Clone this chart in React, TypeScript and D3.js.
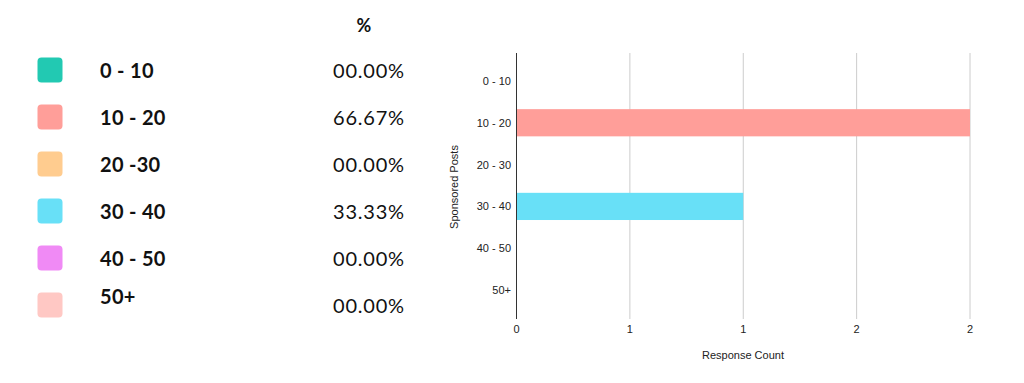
import React from "react";
import * as d3 from "d3";

const categories = ["0 - 10", "10 - 20", "20 -30", "30 - 40", "40 - 50", "50+"];
const axisCategories = ["0 - 10", "10 - 20", "20 - 30", "30 - 40", "40 - 50", "50+"];
const counts = [0, 2, 0, 1, 0, 0];
const percents = ["00.00%", "66.67%", "00.00%", "33.33%", "00.00%", "00.00%"];
const colors = ["#22C9B2", "#FF9E99", "#FFCC8F", "#68E0F7", "#F08AF5", "#FFC8C4"];
const xTicks = [0, 0.5, 1, 1.5, 2];

export default function App() {
  const W = 1024;
  const H = 383;
  const x = d3.scaleLinear().domain([0, 2]).range([516.5, 970]);
  const y = d3.scaleBand<string>().domain(axisCategories).range([60, 311]).paddingInner(0.35).paddingOuter(0.175);
  const legendY = d3.scalePoint<string>().domain(categories).range([70, 305]);
  const fmt = (v: number) => String(Math.round(v));
  const font = "Lato, 'Open Sans', sans-serif";
  const chartFont = "'Liberation Sans', Arial, sans-serif";

  return (
    <svg width={W} height={H} style={{ position: "absolute", left: 0, top: 0, background: "#fff" }}>
      {/* Legend */}
      <text x={364} y={32} textAnchor="middle" fontFamily={font} fontWeight={700} fontSize={18} fill="#111">%</text>
      {categories.map((c, i) => {
        const cy = legendY(c)!;
        const raised = c === "50+" ? -9 : 0;
        return (
          <g key={c}>
            <rect x={37.5} y={cy - 12.5} width={25} height={25} rx={4} fill={colors[i]} />
            <text x={100} y={cy + 7.5 + raised} fontFamily={font} fontWeight={700} fontSize={20} letterSpacing={0.3} fill="#111">{c}</text>
            <text x={333} y={cy + 7.5} fontFamily={font} fontWeight={400} fontSize={20} letterSpacing={0.8} fill="#111">{percents[i]}</text>
          </g>
        );
      })}

      {/* Gridlines */}
      {xTicks.map((t) => (
        <line key={"g" + t} x1={x(t)} x2={x(t)} y1={53} y2={319} stroke={t === 0 ? "#333" : "#ccc"} strokeWidth={1} />
      ))}

      {/* Bars */}
      {axisCategories.map((c, i) =>
        counts[i] > 0 ? (
          <rect key={"b" + c} x={x(0)} y={y(c)!} width={x(counts[i]) - x(0)} height={y.bandwidth()} fill={colors[i]} />
        ) : null
      )}
      <line x1={x(0)} x2={x(0)} y1={53} y2={319} stroke="#333" strokeWidth={1} />

      {/* Y tick labels */}
      {axisCategories.map((c) => (
        <text key={"y" + c} x={511} y={y(c)! + y.bandwidth() / 2 + 4} textAnchor="end" fontFamily={chartFont} fontSize={11} fill="#222">{c}</text>
      ))}

      {/* X tick labels */}
      {xTicks.map((t) => (
        <text key={"x" + t} x={x(t)} y={333} textAnchor="middle" fontFamily={chartFont} fontSize={11} fill="#222">{fmt(t)}</text>
      ))}

      <text x={743} y={359} textAnchor="middle" fontFamily={chartFont} fontSize={11} fill="#222">Response Count</text>
      <text transform="translate(458,187) rotate(-90)" textAnchor="middle" fontFamily={chartFont} fontSize={11} fill="#222">Sponsored Posts</text>
    </svg>
  );
}
